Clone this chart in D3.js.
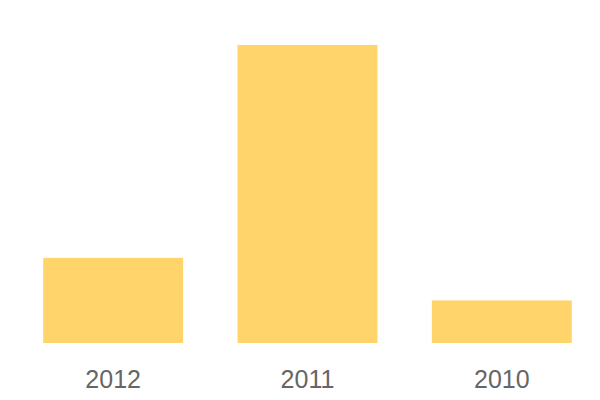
<!DOCTYPE html>
<html>
<head>
<meta charset="utf-8">
<script src="https://cdn.jsdelivr.net/npm/d3@7"></script>
<style>
  body { margin: 0; background: #fff; }
</style>
</head>
<body>
<div id="chart"></div>
<script>
const categories = ['2012', '2011', '2010'];
const values = [2, 7, 1];

const w = 600, h = 400;
const barColor = '#fed46b';

const svg = d3.select('#chart')
  .append('svg')
  .attr('width', w)
  .attr('height', h);

const x = d3.scaleBand()
  .domain(categories)
  .range([16, 599])
  .paddingInner(0.28)
  .paddingOuter(0.14);

const y = d3.scaleLinear()
  .domain([0, 7])
  .range([343, 45]);

svg.selectAll('.bar')
  .data(values)
  .enter().append('rect')
  .attr('class', 'bar')
  .attr('x', (d, i) => x(categories[i]))
  .attr('y', d => y(d))
  .attr('width', x.bandwidth())
  .attr('height', d => y(0) - y(d))
  .style('fill', barColor);

// category labels under the bars
svg.selectAll('.label')
  .data(categories)
  .enter().append('text')
  .attr('class', 'label')
  .attr('x', d => x(d) + x.bandwidth() / 2)
  .attr('y', 388)
  .text(d => d)
  .style('text-anchor', 'middle')
  .style('font-family', '"Liberation Sans", Arial, sans-serif')
  .style('font-size', '25px')
  .style('fill', '#666');
</script>
</body>
</html>
